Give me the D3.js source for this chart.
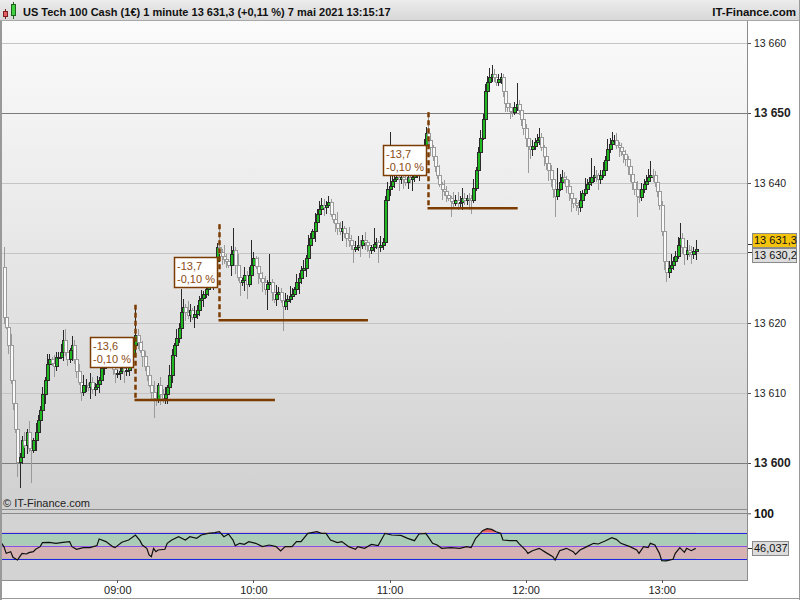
<!DOCTYPE html>
<html><head><meta charset="utf-8">
<script src="https://cdn.jsdelivr.net/npm/d3@7"></script>
<style>body{margin:0;background:#fff}svg{display:block;font-family:Arial,"Liberation Sans",sans-serif}</style>
</head><body><svg id="c" width="800" height="600"></svg>
<script>
const title = "US Tech 100 Cash (1€) 1 minute 13 631,3 (+0,11 %) 7 mai 2021 13:15:17";
const brand = "IT-Finance.com";
const watermark = "© IT-Finance.com";
const firstCandle = "08:10";
const opens = [
13628.0,13620.8,13619.5,13616.9,13611.9,13608.6,13604.8,13600.2,13600.8,13603.3,
13602.6,13604.5,13602.2,13601.9,13603.3,13604.5,13606.2,13607.6,13609.8,13611.9,
13614.1,13614.8,13614.3,13613.9,13615.1,13615.2,13615.9,13617.6,13615.9,13614.8,
13616.2,13616.9,13614.8,13613.1,13611.6,13610.2,13611.1,13611.2,13610.8,13611.6,
13610.5,13610.8,13611.3,13611.9,13613.6,13614.5,13615.2,13615.3,13614.3,13613.5,
13612.8,13612.9,13613.2,13613.6,13613.1,13613.3,13614.2,13615.3,13616.9,13618.3,
13617.3,13616.2,13615.3,13613.9,13612.6,13611.2,13610.2,13609.3,13609.1,13611.1,
13609.9,13609.3,13609.8,13610.8,13612.5,13615.5,13616.8,13617.9,13619.3,13621.6,
13622.3,13621.6,13621.2,13621.9,13620.9,13621.3,13621.9,13623.3,13623.6,13624.2,
13624.9,13625.6,13626.3,13627.3,13628.8,13630.8,13630.2,13629.6,13629.1,13628.8,
13628.3,13629.8,13630.5,13628.3,13626.6,13625.8,13626.2,13626.8,13625.5,13626.9,
13628.3,13629.3,13628.2,13627.2,13626.5,13625.9,13624.9,13625.5,13625.9,13624.5,
13623.5,13624.2,13624.5,13623.3,13622.5,13623.1,13623.5,13623.8,13624.2,13624.8,
13625.8,13626.5,13627.6,13627.9,13629.3,13631.1,13632.1,13633.1,13634.5,13635.6,
13636.3,13636.9,13636.6,13636.9,13637.3,13635.6,13634.9,13634.3,13633.6,13633.1,
13633.5,13632.9,13632.2,13631.8,13631.2,13630.6,13630.9,13631.2,13631.1,13631.8,
13631.5,13631.1,13630.5,13630.8,13631.3,13631.5,13630.9,13631.2,13631.5,13637.6,
13639.1,13639.6,13640.3,13640.6,13640.8,13640.5,13640.8,13640.5,13640.2,13640.8,
13640.5,13640.8,13641.1,13641.6,13642.6,13643.6,13645.5,13647.1,13646.2,13645.1,
13643.8,13642.5,13641.1,13639.8,13639.2,13638.8,13638.3,13637.9,13637.5,13637.2,
13637.6,13637.1,13637.3,13637.9,13637.6,13637.9,13637.8,13637.6,13639.3,13641.9,
13644.5,13646.5,13649.1,13653.1,13654.5,13655.2,13655.6,13655.1,13654.5,13654.8,
13655.1,13653.1,13651.5,13650.8,13650.3,13650.2,13650.8,13651.3,13650.5,13649.1,
13647.9,13646.5,13645.3,13644.8,13645.3,13645.8,13646.2,13646.6,13645.1,13643.8,
13642.9,13641.8,13640.5,13639.1,13638.2,13639.2,13640.2,13640.8,13640.5,13639.6,
13638.5,13637.9,13637.2,13636.9,13636.6,13637.6,13638.6,13639.2,13639.8,13640.1,
13640.8,13641.2,13641.1,13640.6,13641.2,13641.9,13643.3,13644.8,13645.6,13646.1,
13646.2,13645.5,13645.1,13644.6,13644.2,13643.5,13642.5,13641.3,13640.2,13639.2,
13638.2,13638.0,13639.1,13639.8,13640.3,13640.9,13641.2,13641.1,13640.1,13638.8,
13636.9,13633.1,13628.8,13627.3,13627.9,13628.3,13628.8,13629.6,13631.1,13632.2,
13630.8,13629.9,13630.5,13630.2,13629.8,13630.3];
const highs = [
13630.9,13621.9,13619.9,13618.4,13612.7,13608.9,13606.0,13601.5,13603.9,13604.4,
13604.9,13606.0,13603.0,13603.6,13605.7,13606.9,13608.2,13610.9,13612.3,13615.6,
13615.6,13615.1,13615.5,13615.8,13615.8,13617.0,13619.0,13619.1,13616.7,13616.5,
13618.1,13617.6,13615.4,13614.2,13612.0,13612.6,13612.0,13611.5,13612.8,13612.3,
13611.4,13612.4,13612.3,13615.1,13615.3,13617.0,13616.5,13616.0,13614.9,13614.6,
13613.3,13614.7,13614.4,13613.9,13614.5,13614.9,13616.4,13617.3,13622.6,13619.1,
13617.6,13617.4,13616.0,13614.5,13613.7,13611.6,13611.7,13610.1,13611.4,13612.3,
13610.6,13610.9,13611.2,13614.0,13616.3,13617.1,13619.1,13620.0,13624.8,13623.4,
13622.7,13623.1,13622.7,13622.2,13622.5,13622.6,13623.9,13624.7,13624.6,13626.4,
13626.4,13626.6,13628.5,13629.5,13631.4,13634.1,13630.6,13631.1,13629.9,13629.1,
13631.0,13633.6,13630.9,13629.8,13627.4,13626.5,13628.0,13627.5,13628.0,13631.9,
13630.1,13629.6,13629.4,13627.9,13627.3,13626.7,13626.1,13629.8,13626.3,13625.0,
13625.4,13625.2,13625.0,13624.0,13624.3,13624.0,13625.3,13625.0,13625.1,13627.0,
13627.2,13628.2,13629.0,13629.7,13632.6,13632.9,13633.4,13635.7,13636.3,13637.4,
13637.9,13637.7,13637.5,13638.1,13637.7,13636.7,13635.3,13635.8,13634.4,13634.6,
13633.9,13633.5,13633.7,13632.6,13631.5,13631.7,13632.4,13631.9,13632.6,13633.0,
13631.9,13631.5,13631.2,13633.6,13632.2,13631.8,13632.4,13632.2,13638.2,13640.2,
13647.3,13641.8,13641.4,13641.1,13642.0,13641.5,13641.4,13642.0,13641.6,13641.1,
13642.0,13641.8,13642.7,13643.0,13645.1,13646.3,13648.0,13650.1,13646.8,13645.5,
13644.9,13643.0,13642.6,13640.1,13640.4,13639.6,13638.9,13638.2,13638.7,13638.3,
13638.7,13638.1,13639.3,13638.5,13638.3,13638.6,13638.3,13640.5,13642.3,13645.1,
13647.6,13649.9,13654.2,13655.3,13656.5,13656.9,13656.3,13655.5,13655.6,13655.7,
13655.5,13653.9,13652.3,13651.5,13650.9,13651.6,13654.3,13651.8,13651.1,13649.5,
13648.5,13647.0,13645.9,13646.1,13646.5,13647.0,13647.9,13647.2,13645.5,13644.5,
13643.2,13642.6,13641.1,13639.7,13642.2,13641.3,13641.8,13641.6,13641.0,13640.4,
13639.2,13638.5,13637.8,13637.3,13638.8,13639.0,13640.7,13640.6,13640.8,13643.6,
13642.4,13641.9,13641.5,13641.9,13643.0,13643.9,13646.3,13646.4,13647.3,13646.9,
13647.1,13645.9,13645.7,13645.1,13644.7,13643.8,13643.4,13642.0,13640.8,13640.3,
13638.6,13640.0,13640.5,13641.2,13642.0,13643.1,13642.0,13641.7,13640.5,13639.4,
13637.4,13633.9,13630.0,13628.8,13629.9,13629.4,13630.3,13632.3,13634.3,13632.9,
13631.6,13631.8,13631.2,13631.0,13630.9,13631.9];
const lows = [
13619.8,13619.1,13615.6,13611.3,13607.6,13604.3,13598.0,13596.4,13599.9,13602.2,
13601.3,13601.6,13597.2,13601.4,13601.7,13603.8,13605.3,13607.2,13608.5,13611.3,
13613.1,13613.8,13612.3,13613.2,13614.2,13614.8,13614.6,13615.3,13613.8,13614.3,
13614.6,13614.1,13612.2,13611.2,13608.9,13609.6,13610.1,13610.3,13609.2,13609.8,
13609.6,13610.4,13610.0,13611.3,13612.6,13614.0,13613.6,13613.6,13612.6,13611.4,
13612.2,13611.9,13612.7,13611.5,13612.4,13612.4,13613.8,13614.0,13616.3,13616.3,
13615.7,13613.7,13613.2,13611.7,13610.8,13608.9,13606.4,13608.1,13608.6,13608.3,
13608.6,13608.4,13608.5,13610.2,13611.5,13615.0,13615.2,13617.2,13618.4,13621.2,
13620.3,13620.6,13620.2,13620.4,13619.3,13620.6,13621.0,13622.9,13622.3,13623.6,
13623.9,13625.1,13624.7,13626.6,13627.9,13629.8,13628.3,13628.5,13627.8,13627.8,
13626.7,13629.4,13627.0,13626.0,13623.8,13625.3,13624.6,13623.5,13625.1,13625.6,
13627.8,13627.7,13625.6,13625.8,13624.4,13624.0,13621.9,13625.1,13623.2,13622.9,
13622.5,13623.5,13622.8,13618.8,13621.8,13621.9,13622.9,13623.4,13623.7,13624.3,
13624.2,13625.6,13627.2,13626.6,13628.7,13630.1,13631.6,13631.5,13633.8,13635.2,
13635.7,13635.3,13635.6,13636.4,13635.1,13634.3,13633.0,13632.6,13632.6,13631.7,
13632.2,13630.9,13630.8,13630.5,13628.6,13630.1,13630.3,13629.5,13630.6,13630.5,
13630.2,13629.3,13629.8,13630.1,13630.6,13628.6,13630.2,13630.5,13631.0,13637.2,
13638.1,13639.0,13639.3,13640.1,13638.9,13639.8,13639.1,13639.6,13639.2,13640.0,
13638.9,13640.1,13640.7,13640.3,13642.0,13642.6,13645.0,13645.5,13643.8,13643.2,
13641.6,13640.5,13639.4,13637.6,13638.1,13637.3,13637.4,13635.1,13636.5,13636.7,
13636.2,13636.6,13636.2,13636.9,13636.8,13636.2,13635.6,13637.2,13638.8,13641.4,
13643.9,13646.1,13648.5,13652.6,13653.9,13654.5,13654.4,13653.8,13653.9,13654.2,
13652.3,13650.1,13650.2,13649.1,13649.5,13649.7,13650.3,13649.7,13648.2,13646.8,
13645.1,13641.5,13643.5,13643.9,13644.7,13645.2,13645.5,13644.6,13642.5,13641.8,
13640.3,13639.5,13637.8,13635.1,13637.6,13638.8,13639.7,13639.8,13638.6,13637.4,
13635.8,13636.5,13636.0,13635.5,13635.9,13637.0,13638.2,13638.5,13639.3,13639.6,
13640.1,13640.2,13639.0,13639.9,13640.7,13641.0,13642.7,13644.3,13645.1,13645.4,
13644.9,13643.7,13643.9,13642.9,13642.5,13641.1,13640.2,13639.0,13638.3,13635.1,
13637.1,13637.4,13638.5,13639.2,13639.9,13640.4,13640.2,13639.4,13638.0,13636.2,
13632.4,13627.6,13625.9,13626.4,13627.2,13627.6,13628.1,13629.1,13630.8,13629.9,
13628.3,13629.0,13629.5,13628.4,13629.2,13629.0];
const closes = [
13620.8,13619.5,13616.9,13611.9,13608.6,13604.8,13600.2,13600.8,13603.3,13602.6,
13604.5,13602.2,13601.9,13603.3,13604.5,13606.2,13607.6,13609.8,13611.9,13614.1,
13614.8,13614.3,13613.9,13615.1,13615.2,13615.9,13617.6,13615.9,13614.8,13616.2,
13616.9,13614.8,13613.1,13611.6,13610.2,13611.1,13611.2,13610.8,13611.6,13610.5,
13610.8,13611.3,13611.9,13613.6,13614.5,13615.2,13615.3,13614.3,13613.5,13612.8,
13612.9,13613.2,13613.6,13613.1,13613.3,13614.2,13615.3,13616.9,13618.3,13617.3,
13616.2,13615.3,13613.9,13612.6,13611.2,13610.2,13609.3,13609.1,13611.1,13609.9,
13609.3,13609.8,13610.8,13612.5,13615.5,13616.8,13617.9,13619.3,13621.6,13622.3,
13621.6,13621.2,13621.9,13620.9,13621.3,13621.9,13623.3,13623.6,13624.2,13624.9,
13625.6,13626.3,13627.3,13628.8,13630.8,13630.2,13629.6,13629.1,13628.8,13628.3,
13629.8,13630.5,13628.3,13626.6,13625.8,13626.2,13626.8,13625.5,13626.9,13628.3,
13629.3,13628.2,13627.2,13626.5,13625.9,13624.9,13625.5,13625.9,13624.5,13623.5,
13624.2,13624.5,13623.3,13622.5,13623.1,13623.5,13623.8,13624.2,13624.8,13625.8,
13626.5,13627.6,13627.9,13629.3,13631.1,13632.1,13633.1,13634.5,13635.6,13636.3,
13636.9,13636.6,13636.9,13637.3,13635.6,13634.9,13634.3,13633.6,13633.1,13633.5,
13632.9,13632.2,13631.8,13631.2,13630.6,13630.9,13631.2,13631.1,13631.8,13631.5,
13631.1,13630.5,13630.8,13631.3,13631.5,13630.9,13631.2,13631.5,13637.6,13639.1,
13639.6,13640.3,13640.6,13640.8,13640.5,13640.8,13640.5,13640.2,13640.8,13640.5,
13640.8,13641.1,13641.6,13642.6,13643.6,13645.5,13647.1,13646.2,13645.1,13643.8,
13642.5,13641.1,13639.8,13639.2,13638.8,13638.3,13637.9,13637.5,13637.2,13637.6,
13637.1,13637.3,13637.9,13637.6,13637.9,13637.8,13637.6,13639.3,13641.9,13644.5,
13646.5,13649.1,13653.1,13654.5,13655.2,13655.6,13655.1,13654.5,13654.8,13655.1,
13653.1,13651.5,13650.8,13650.3,13650.2,13650.8,13651.3,13650.5,13649.1,13647.9,
13646.5,13645.3,13644.8,13645.3,13645.8,13646.2,13646.6,13645.1,13643.8,13642.9,
13641.8,13640.5,13639.1,13638.2,13639.2,13640.2,13640.8,13640.5,13639.6,13638.5,
13637.9,13637.2,13636.9,13636.6,13637.6,13638.6,13639.2,13639.8,13640.1,13640.8,
13641.2,13641.1,13640.6,13641.2,13641.9,13643.3,13644.8,13645.6,13646.1,13646.2,
13645.5,13645.1,13644.6,13644.2,13643.5,13642.5,13641.3,13640.2,13639.2,13638.2,
13638.0,13639.1,13639.8,13640.3,13640.9,13641.2,13641.1,13640.1,13638.8,13636.9,
13633.1,13628.8,13627.3,13627.9,13628.3,13628.8,13629.6,13631.1,13632.2,13630.8,
13629.9,13630.5,13630.2,13629.8,13630.3,13630.6];

const timeTicks = ["09:00","10:00","11:00","12:00","13:00"];
const priceTicks = [13600,13610,13620,13640,13650,13660];
const boldTicks = [13600,13650];
const lightGrid = [13610,13620,13630,13640,13660];
const darkGrid = [13600,13650];
const priceDomain = [13600,13660];

const annStart = ["09:08","09:45","11:17"];
const annHigh = [13622.6,13634.1,13650.1];
const annLow = [13609.0,13620.4,13636.4];
const annEnd = ["10:09:30","10:50:30","11:56:30"];
const annPoints = ["-13,6","-13,7","-13,7"];
const annPct = ["-0,10 %","-0,10 %","-0,10 %"];

const lastPrice = 13631.3, lastLabel = "13 631,3";
const refPrice = 13630.2, refLabel = "13 630,2";

const rsiTimes = ["08:08","08:10","08:11","08:13","08:14","08:16","08:17","08:18","08:20","08:21",
"08:23","08:24","08:26","08:27","08:30","08:33","08:36","08:39","08:40","08:42",
"08:45","08:48","08:51","08:52","08:55","08:56","08:58","08:59","09:02","09:05",
"09:08","09:10","09:11","09:13","09:14","09:15","09:16","09:17","09:18","09:21",
"09:22","09:24","09:27","09:30","09:32","09:35","09:37","09:40","09:43","09:45",
"09:47","09:49","09:51","09:52","09:54","09:56","09:58","10:01","10:04","10:07",
"10:10","10:12","10:14","10:17","10:19","10:21","10:24","10:28","10:30","10:32",
"10:34","10:37","10:39","10:42","10:45","10:46","10:49","10:52","10:55","10:58",
"11:01","11:05","11:08","11:11","11:13","11:16","11:17","11:19","11:21","11:23",
"11:27","11:31","11:34","11:36","11:38","11:40","11:41","11:43","11:45","11:47",
"11:49","11:50","11:53","11:56","11:57","12:00","12:01","12:03","12:06","12:09",
"12:12","12:13","12:15","12:18","12:21","12:22","12:24","12:27","12:30","12:32",
"12:35","12:38","12:40","12:42","12:46","12:49","12:50","12:52","12:54","12:55",
"12:57","12:59","13:00","13:02","13:05","13:06","13:08","13:10","13:11","13:13","13:15"];
const rsiValues = [58.9,48.7,38.4,41.0,32.3,28.2,33.3,38.4,37.4,39.5,
41.0,44.6,48.7,54.8,55.4,53.8,55.4,56.4,48.7,44.6,
47.2,47.2,50.3,60.5,56.4,53.8,48.7,47.2,55.4,58.9,
66.6,57.9,51.2,46.1,35.9,33.3,46.1,41.0,43.5,44.6,
53.8,58.9,64.0,58.9,64.0,61.5,66.6,69.2,70.2,71.7,
64.0,68.2,58.9,50.3,53.8,52.2,56.4,53.8,48.7,51.2,
48.7,42.0,48.7,48.7,56.4,56.4,69.2,71.7,69.2,69.2,
58.9,54.8,56.4,48.7,44.6,48.7,46.1,52.2,50.3,69.2,
66.6,66.0,61.5,57.9,68.2,69.2,64.0,53.8,51.2,46.1,
47.2,46.1,48.7,47.2,61.5,69.2,73.2,76.3,75.3,71.7,
69.2,58.9,57.9,57.9,53.8,43.5,38.4,42.5,46.1,39.5,
33.3,28.2,42.5,46.1,41.0,36.9,43.5,48.7,53.8,52.8,
57.4,62.5,59.9,53.8,48.7,43.5,38.4,48.7,47.2,53.8,
51.2,38.4,27.2,26.7,29.2,38.4,47.2,39.9,46.1,42.5,46.0];
const rsiLevels = [30,50,70];
const rsiTickLabel = "100";
const rsiLastLabel = "46,037";

// ---------- setup ----------
const svg = d3.select("#c");
const parseT = s => { const p = s.split(":").map(Number); return new Date(2021,4,7,p[0],p[1],p[2]||0); };
const PL = 0, PR = 747, MT = 21, MB = 509, RT = 509, RB = 580;
const x = d3.scaleTime().domain([parseT("09:00"), parseT("13:00")]).range([117.3, 661.7]);
const y = d3.scaleLinear().domain(priceDomain).range([463, 43]);
const yR = d3.scaleLinear().domain([0,100]).range([578.3, 513.3]);
const fr = d3.formatLocale({decimal:",", thousands:"\u00a0", grouping:[3], currency:["",""]});
const fmtP = fr.format(",");
const t0 = parseT(firstCandle);
const candles = closes.map((c,i)=>({t:new Date(+t0 + i*60000), o:opens[i], h:highs[i], l:lows[i], c}));

const defs = svg.append("defs");
const g1 = defs.append("linearGradient").attr("id","bg").attr("x1",0).attr("y1",0).attr("x2",0).attr("y2",1);
g1.append("stop").attr("offset","0%").attr("stop-color","#fbfbfb");
g1.append("stop").attr("offset","100%").attr("stop-color","#d0d0d0");
const g2 = defs.append("linearGradient").attr("id","hd").attr("x1",0).attr("y1",0).attr("x2",0).attr("y2",1);
g2.append("stop").attr("offset","0%").attr("stop-color","#ececec");
g2.append("stop").attr("offset","100%").attr("stop-color","#d6d6d6");
defs.append("clipPath").attr("id","mainClip").append("rect").attr("x",PL).attr("y",MT).attr("width",PR-PL).attr("height",MB-MT);
defs.append("clipPath").attr("id","above70").append("rect").attr("x",PL).attr("y",RT).attr("width",PR-PL).attr("height",yR(70)-RT);
defs.append("clipPath").attr("id","below30").append("rect").attr("x",PL).attr("y",yR(30)).attr("width",PR-PL).attr("height",RB-yR(30));

svg.append("rect").attr("width",800).attr("height",600).attr("fill","#fff");

// header
svg.append("rect").attr("x",0).attr("y",0).attr("width",800).attr("height",21).attr("fill","url(#hd)");
svg.append("line").attr("x1",0).attr("x2",800).attr("y1",20.5).attr("y2",20.5).attr("stroke","#a8a8a8");
const icon = svg.append("g").attr("shape-rendering","crispEdges");
icon.append("line").attr("x1",5.5).attr("x2",5.5).attr("y1",9).attr("y2",19).attr("stroke","#7a2020");
icon.append("rect").attr("x",3.5).attr("y",11.5).attr("width",4).attr("height",5).attr("fill","#e46060").attr("stroke","#7a2020");
icon.append("line").attr("x1",13.5).attr("x2",13.5).attr("y1",2).attr("y2",19).attr("stroke","#206020");
icon.append("rect").attr("x",11.5).attr("y",4.5).attr("width",4).attr("height",11).attr("fill","#3fd23f").attr("stroke","#206020");
svg.append("text").attr("x",23).attr("y",16).attr("font-size",11).attr("font-weight","bold").attr("fill","#111").text(title);
svg.append("text").attr("x",796).attr("y",16).attr("text-anchor","end").attr("font-size",11.5).attr("font-weight","bold").attr("fill","#111").text(brand);

// main panel
svg.append("rect").attr("x",PL).attr("y",MT).attr("width",PR-PL).attr("height",MB-MT).attr("fill","url(#bg)");
const grid = svg.append("g").attr("shape-rendering","crispEdges");
grid.selectAll(".lg").data(lightGrid).join("line")
  .attr("x1",PL).attr("x2",PR).attr("y1",d=>Math.round(y(d))+0.5).attr("y2",d=>Math.round(y(d))+0.5)
  .attr("stroke","#c4c4c4");
grid.selectAll(".dg").data(darkGrid).join("line")
  .attr("x1",PL).attr("x2",PR).attr("y1",d=>Math.round(y(d))+0.5).attr("y2",d=>Math.round(y(d))+0.5)
  .attr("stroke","#7c7c7c");

const cg = svg.append("g").attr("clip-path","url(#mainClip)");
candles.forEach(d=>{
  const cx = Math.round(x(d.t));
  const up = d.c >= d.o;
  const col = up ? "#2a2a2a" : "#9a9a9a";
  cg.append("rect").attr("x",cx).attr("y",Math.round(y(d.h))).attr("width",1)
    .attr("height",Math.max(1,Math.round(y(d.l))-Math.round(y(d.h)))).attr("fill",col);
  const top = Math.round(y(Math.max(d.o,d.c))), bot = Math.round(y(Math.min(d.o,d.c)));
  const hgt = Math.max(bot-top,1);
  cg.append("rect").attr("x",cx-1).attr("y",top).attr("width",4).attr("height",hgt+1).attr("fill",col);
  if (hgt > 1) cg.append("rect").attr("x",cx).attr("y",top+1).attr("width",2).attr("height",hgt-1)
    .attr("fill", up ? "#1fb81f" : "#fafafa");
});

// annotations
const ann = svg.append("g").attr("clip-path","url(#mainClip)");
const brown = "#7c3c00";
annStart.forEach((s,k)=>{
  const xs = Math.round(x(parseT(s)))+0.5;
  const xe = x(parseT(annEnd[k]));
  const yh = y(annHigh[k]), yl = y(annLow[k]);
  ann.append("line").attr("x1",xs).attr("x2",xs).attr("y1",yh).attr("y2",yl)
    .attr("stroke",brown).attr("stroke-width",2.5).attr("stroke-dasharray","5,3");
  ann.append("line").attr("x1",xs-1).attr("x2",xe).attr("y1",yl).attr("y2",yl)
    .attr("stroke",brown).attr("stroke-width",2.5);
  const bw = 43, bh = 30, bx = xs - 2.5 - bw, by = (yh+yl)/2 - bh/2;
  ann.append("rect").attr("x",Math.round(bx)+0.5).attr("y",Math.round(by)+0.5).attr("width",bw).attr("height",bh)
    .attr("fill","#fff").attr("stroke",brown).attr("stroke-width",1.5);
  ann.append("text").attr("x",Math.round(bx)+3).attr("y",Math.round(by)+13).attr("font-size",11).attr("fill","#8a4a12").text(annPoints[k]);
  ann.append("text").attr("x",Math.round(bx)+3).attr("y",Math.round(by)+26).attr("font-size",11).attr("fill","#8a4a12").text(annPct[k]);
});
svg.append("text").attr("x",3).attr("y",507).attr("font-size",11).attr("fill","#222").text(watermark);

// RSI panel
const rg = svg.append("g");
rg.append("rect").attr("x",PL).attr("y",RT).attr("width",PR-PL).attr("height",RB-RT).attr("fill","#d3d3d3");
rg.append("line").attr("x1",PL).attr("x2",PR).attr("y1",RT+0.5).attr("y2",RT+0.5).attr("stroke","#8c8c8c");
rg.append("rect").attr("x",PL).attr("y",yR(70)).attr("width",PR-PL).attr("height",yR(50)-yR(70)).attr("fill","#a9cdb7");
rg.append("rect").attr("x",PL).attr("y",yR(50)).attr("width",PR-PL).attr("height",yR(30)-yR(50)).attr("fill","#d6b2b2");
const rsiPts = rsiTimes.map((s,i)=>({t:parseT(s), v:rsiValues[i]}));
rg.append("path").datum(rsiPts).attr("clip-path","url(#above70)")
  .attr("d", d3.area().x(d=>x(d.t)).y0(yR(70)).y1(d=>yR(d.v))).attr("fill","#e86464");
rg.append("path").datum(rsiPts).attr("clip-path","url(#below30)")
  .attr("d", d3.area().x(d=>x(d.t)).y0(yR(30)).y1(d=>yR(d.v))).attr("fill","#3cc08a");
rg.append("line").attr("x1",PL).attr("x2",PR).attr("y1",Math.round(yR(100))+0.5).attr("y2",Math.round(yR(100))+0.5).attr("stroke","#8a8a8a");
rsiLevels.forEach(v=>{
  rg.append("line").attr("x1",PL).attr("x2",PR).attr("y1",Math.round(yR(v))+0.5).attr("y2",Math.round(yR(v))+0.5)
    .attr("stroke", v===50 ? "#8a4ee6" : "#2424e0").attr("stroke-width",1.2);
});
rg.append("path").datum(rsiPts).attr("d", d3.line().x(d=>x(d.t)).y(d=>yR(d.v)))
  .attr("fill","none").attr("stroke","#111").attr("stroke-width",1.2);
rg.append("line").attr("x1",PL).attr("x2",PR).attr("y1",RB+0.5).attr("y2",RB+0.5).attr("stroke","#8c8c8c");

// right axis
const ax = svg.append("g").attr("transform",`translate(${PR},0)`)
  .call(d3.axisRight(y).tickValues(priceTicks).tickSize(4).tickPadding(3).tickFormat(fmtP));
ax.select(".domain").remove();
ax.selectAll("line").attr("stroke","#555").attr("shape-rendering","crispEdges");
ax.selectAll("text").attr("font-family","Arial, Liberation Sans, sans-serif").attr("fill","#222")
  .attr("font-size",d=>boldTicks.includes(d)?12:10.5).attr("font-weight",d=>boldTicks.includes(d)?"bold":"normal");

const ra = svg.append("g").attr("transform",`translate(${PR},0)`)
  .call(d3.axisRight(yR).tickValues([100]).tickSize(4).tickPadding(3).tickFormat(()=>rsiTickLabel));
ra.select(".domain").remove();
ra.selectAll("line").attr("stroke","#555");
ra.selectAll("text").attr("font-family","Arial, Liberation Sans, sans-serif").attr("font-size",12).attr("font-weight","bold").attr("fill","#111");

// bottom axis
const bx = svg.append("g").attr("transform",`translate(0,${RB})`)
  .call(d3.axisBottom(x).tickValues(timeTicks.map(parseT)).tickSize(3).tickPadding(3).tickFormat(d3.timeFormat("%H:%M")));
bx.select(".domain").remove();
bx.selectAll("line").attr("stroke","#555").attr("shape-rendering","crispEdges");
bx.selectAll("text").attr("font-family","Arial, Liberation Sans, sans-serif").attr("font-size",11).attr("fill","#222");

// value labels
function valBox(yc, ytick, label, fill, w){
  svg.append("line").attr("x1",PR).attr("x2",PR+5).attr("y1",Math.round(ytick)+0.5).attr("y2",Math.round(ytick)+0.5).attr("stroke","#333");
  svg.append("rect").attr("x",PR+5.5).attr("y",Math.round(yc-7)+0.5).attr("width",w).attr("height",14)
    .attr("fill",fill).attr("stroke","#8a8a8a");
  svg.append("text").attr("x",PR+7).attr("y",Math.round(yc)+4).attr("font-size",11).attr("fill","#111").text(label);
}
let yl1 = y(lastPrice), yl2 = y(refPrice);
const mid = (yl1+yl2)/2;
valBox(mid-7.5, yl1, lastLabel, "#f4c30e", 44);
valBox(mid+7.5, yl2, refLabel, "#dcdcdc", 44);
valBox(yR(46.037), yR(46.037), rsiLastLabel, "#dcdcdc", 36);

// frame
const fr2 = svg.append("g").attr("shape-rendering","crispEdges").attr("fill","none");
fr2.append("line").attr("x1",PR+0.5).attr("x2",PR+0.5).attr("y1",21).attr("y2",RB+1).attr("stroke","#8c8c8c");
fr2.append("line").attr("x1",1).attr("x2",1).attr("y1",21).attr("y2",600).attr("stroke","#999").attr("stroke-width",2);
fr2.append("line").attr("x1",799.5).attr("x2",799.5).attr("y1",0).attr("y2",600).attr("stroke","#999");
fr2.append("line").attr("x1",0).attr("x2",800).attr("y1",598.5).attr("y2",598.5).attr("stroke","#999");
</script></body></html>
